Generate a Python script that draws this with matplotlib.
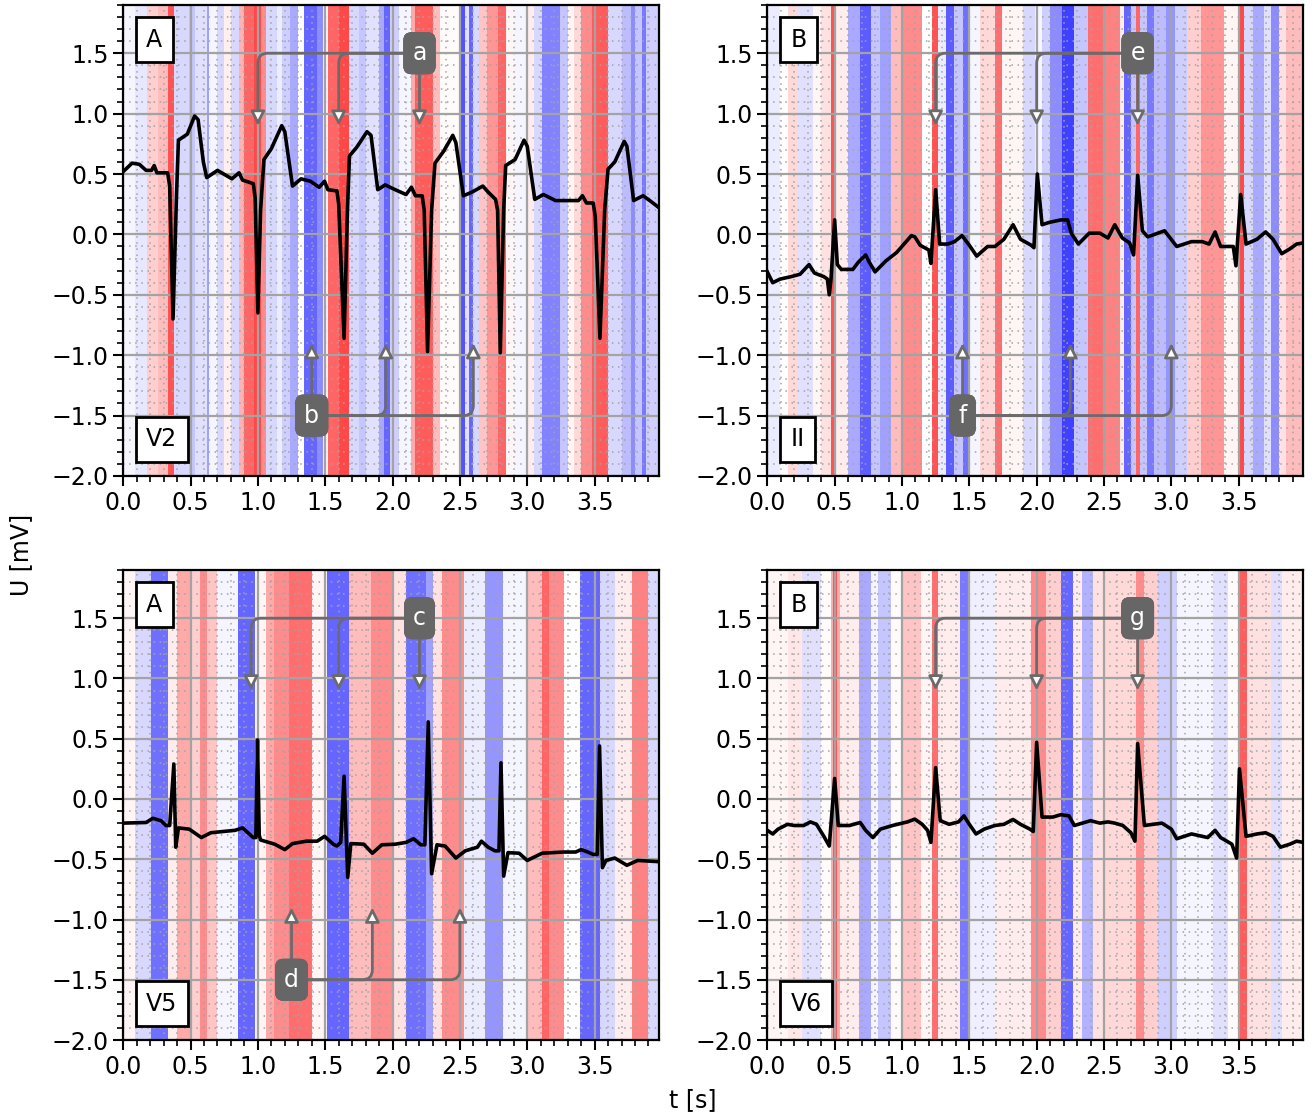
import numpy as np
import matplotlib
matplotlib.use("Agg")
import matplotlib.pyplot as plt
from matplotlib.ticker import MultipleLocator

# ---------------- data ----------------
T_END = 3.98

# ECG traces (time [s], voltage [mV])
v2_t = [0.00, 0.066, 0.12, 0.17, 0.21, 0.23, 0.25, 0.33, 0.345, 0.37, 0.395, 0.41, 0.476, 0.53, 0.556, 0.595, 0.62,
        0.70, 0.807, 0.86, 0.886, 0.966, 0.98, 1.0, 1.02, 1.045, 1.10, 1.177, 1.20, 1.257, 1.32, 1.39, 1.455, 1.495,
        1.52, 1.587, 1.60, 1.64, 1.665, 1.68, 1.733, 1.81, 1.84, 1.89, 1.945, 2.02, 2.10, 2.14, 2.17, 2.22, 2.235,
        2.26, 2.29, 2.315, 2.38, 2.447, 2.47, 2.526, 2.59, 2.67, 2.71, 2.765, 2.78, 2.80, 2.825, 2.84, 2.91, 2.976,
        3.00, 3.056, 3.12, 3.21, 3.38, 3.41, 3.44, 3.49, 3.505, 3.54, 3.575, 3.60, 3.65, 3.72, 3.74, 3.79, 3.86,
        3.91, 3.98]
v2_u = [0.52, 0.59, 0.58, 0.53, 0.53, 0.57, 0.51, 0.51, 0.40, -0.70, 0.30, 0.78, 0.83, 0.98, 0.95, 0.60, 0.47,
        0.53, 0.46, 0.51, 0.45, 0.42, 0.30, -0.65, 0.20, 0.62, 0.71, 0.90, 0.85, 0.40, 0.46, 0.44, 0.39, 0.44,
        0.37, 0.36, 0.25, -0.86, 0.20, 0.65, 0.72, 0.85, 0.82, 0.37, 0.41, 0.37, 0.33, 0.39, 0.32, 0.32, 0.20,
        -0.97, 0.20, 0.59, 0.69, 0.82, 0.76, 0.32, 0.35, 0.40, 0.35, 0.29, 0.20, -0.98, 0.20, 0.57, 0.62, 0.78,
        0.73, 0.29, 0.33, 0.28, 0.28, 0.32, 0.26, 0.26, 0.15, -0.86, 0.20, 0.54, 0.60, 0.77, 0.73, 0.28, 0.32,
        0.28, 0.22]

ii_t = [0.00, 0.04, 0.095, 0.176, 0.243, 0.31, 0.35, 0.42, 0.446, 0.46, 0.473, 0.50, 0.52, 0.55, 0.57, 0.635,
        0.676, 0.73, 0.757, 0.80, 0.88, 0.96, 1.07, 1.095, 1.135, 1.20, 1.215, 1.25, 1.28, 1.34, 1.39, 1.446,
        1.50, 1.555, 1.636, 1.69, 1.757, 1.825, 1.88, 1.96, 1.98, 2.005, 2.04, 2.095, 2.18, 2.23, 2.257, 2.31,
        2.39, 2.47, 2.53, 2.58, 2.636, 2.69, 2.72, 2.75, 2.785, 2.825, 2.95, 3.04, 3.15, 3.23, 3.28, 3.325,
        3.366, 3.46, 3.48, 3.515, 3.555, 3.636, 3.70, 3.755, 3.82, 3.88, 3.93, 3.98]
ii_u = [-0.31, -0.40, -0.37, -0.35, -0.33, -0.25, -0.32, -0.35, -0.37, -0.50, -0.37, 0.12, -0.25, -0.29, -0.29,
        -0.29, -0.23, -0.17, -0.23, -0.31, -0.22, -0.15, -0.01, -0.02, -0.09, -0.13, -0.24, 0.37, -0.08, -0.08,
        -0.06, -0.01, -0.09, -0.18, -0.10, -0.10, -0.04, 0.08, -0.04, -0.09, -0.11, 0.50, 0.08, 0.10, 0.12,
        0.12, 0.01, -0.08, 0.01, 0.01, -0.03, 0.08, -0.03, -0.07, -0.17, 0.49, 0.03, -0.02, 0.03, -0.10, -0.06,
        -0.06, -0.08, 0.02, -0.10, -0.10, -0.26, 0.33, -0.08, -0.04, 0.02, -0.04, -0.16, -0.12, -0.08, -0.07]

v5_t = [0.00, 0.17, 0.22, 0.28, 0.317, 0.345, 0.376, 0.39, 0.41, 0.49, 0.58, 0.65, 0.83, 0.886, 0.966, 0.985,
        0.997, 1.01, 1.02, 1.125, 1.20, 1.257, 1.36, 1.44, 1.495, 1.56, 1.587, 1.615, 1.64, 1.667, 1.69, 1.786,
        1.85, 1.92, 2.02, 2.10, 2.156, 2.21, 2.24, 2.265, 2.29, 2.33, 2.39, 2.47, 2.54, 2.63, 2.66, 2.71, 2.76,
        2.79, 2.805, 2.825, 2.857, 2.94, 3.00, 3.11, 3.27, 3.36, 3.40, 3.45, 3.49, 3.52, 3.537, 3.558, 3.585,
        3.65, 3.74, 3.82, 3.98]
v5_u = [-0.20, -0.195, -0.16, -0.18, -0.22, -0.22, 0.29, -0.40, -0.24, -0.25, -0.32, -0.28, -0.26, -0.24, -0.32,
        -0.32, 0.49, -0.30, -0.34, -0.375, -0.42, -0.37, -0.35, -0.35, -0.31, -0.375, -0.39, -0.36, 0.19, -0.65,
        -0.37, -0.375, -0.45, -0.38, -0.375, -0.36, -0.33, -0.38, -0.38, 0.64, -0.62, -0.38, -0.39, -0.49, -0.43,
        -0.40, -0.35, -0.40, -0.43, -0.43, 0.30, -0.64, -0.445, -0.45, -0.51, -0.45, -0.44, -0.44, -0.42, -0.44,
        -0.46, -0.46, 0.44, -0.57, -0.51, -0.49, -0.55, -0.51, -0.52]

v6_t = [0.00, 0.04, 0.08, 0.15, 0.20, 0.27, 0.32, 0.365, 0.42, 0.46, 0.50, 0.527, 0.61, 0.69, 0.73, 0.784, 0.84,
        0.93, 1.04, 1.095, 1.15, 1.19, 1.215, 1.25, 1.284, 1.35, 1.42, 1.46, 1.50, 1.55, 1.61, 1.69, 1.757,
        1.825, 1.88, 1.95, 1.975, 2.00, 2.04, 2.12, 2.18, 2.24, 2.28, 2.34, 2.40, 2.47, 2.53, 2.58, 2.64, 2.70,
        2.73, 2.75, 2.80, 2.93, 3.00, 3.04, 3.15, 3.27, 3.325, 3.366, 3.45, 3.485, 3.506, 3.555, 3.636, 3.70,
        3.755, 3.81, 3.88, 3.93, 3.98]
v6_u = [-0.26, -0.29, -0.25, -0.21, -0.22, -0.22, -0.19, -0.21, -0.31, -0.39, 0.17, -0.22, -0.22, -0.195, -0.26,
        -0.32, -0.25, -0.22, -0.19, -0.167, -0.21, -0.26, -0.36, 0.26, -0.18, -0.21, -0.19, -0.14, -0.21, -0.29,
        -0.25, -0.22, -0.21, -0.17, -0.21, -0.25, -0.27, 0.47, -0.15, -0.15, -0.13, -0.14, -0.22, -0.20, -0.18,
        -0.20, -0.19, -0.20, -0.22, -0.28, -0.35, 0.46, -0.22, -0.20, -0.25, -0.33, -0.29, -0.32, -0.26, -0.32,
        -0.375, -0.49, 0.25, -0.31, -0.29, -0.28, -0.31, -0.40, -0.375, -0.35, -0.36]

# relevance bands: start time of each band and its relevance (-1 .. 1)
v2_band_t = [0.00, 0.09, 0.18, 0.26, 0.33, 0.38, 0.49, 0.53, 0.62, 0.64, 0.70, 0.75, 0.80, 0.86, 0.90, 0.97, 1.02,
             1.06, 1.14, 1.18, 1.24, 1.30, 1.34, 1.44, 1.48, 1.52, 1.60, 1.68, 1.75, 1.80, 1.90, 1.94, 1.98, 2.05,
             2.14, 2.17, 2.30, 2.35, 2.51, 2.535, 2.57, 2.60, 2.64, 2.70, 2.78, 2.84, 2.90, 3.00, 3.05, 3.11, 3.24,
             3.30, 3.35, 3.40, 3.48, 3.60, 3.70, 3.77, 3.80, 3.85, 3.88]
v2_band_r = [-0.05, -0.12, 0.25, 0.35, 0.90, -0.20, -0.30, -0.15, -0.50, -0.05, -0.20, 0.08, -0.20, 0.40, 0.80,
             0.95, 0.60, -0.20, -0.10, -0.25, -0.45, 0.00, -0.80, -0.60, 0.05, 0.80, 0.95, -0.20, -0.30, -0.15,
             -0.45, -0.80, -0.25, -0.05, 0.45, 0.85, 0.35, 0.02, -0.90, -0.15, -0.80, -0.20, 0.30, 0.55, 0.80,
             0.05, -0.05, 0.10, -0.20, -0.65, -0.30, 0.05, 0.20, 0.60, 0.85, -0.20, -0.35, -0.60, -0.30, -0.70,
             -0.25]

ii_band_t = [0.00, 0.095, 0.15, 0.23, 0.34, 0.40, 0.47, 0.51, 0.60, 0.69, 0.77, 0.84, 0.92, 0.99, 1.15, 1.22,
             1.27, 1.33, 1.39, 1.45, 1.50, 1.58, 1.69, 1.74, 1.90, 1.99, 2.04, 2.10, 2.19, 2.28, 2.38, 2.50, 2.62,
             2.65, 2.70, 2.74, 2.77, 2.82, 2.87, 2.96, 3.03, 3.12, 3.22, 3.39, 3.50, 3.54, 3.61, 3.69, 3.74, 3.80,
             3.85]
ii_band_r = [-0.10, 0.00, 0.20, -0.15, 0.05, 0.15, 0.90, 0.10, -0.45, -0.85, -0.30, -0.50, 0.35, 0.60, 0.00,
             0.90, -0.10, -0.85, -0.30, -0.75, -0.05, 0.20, 0.75, 0.05, -0.20, -0.05, -0.25, -0.60, -1.00, -0.30,
             0.75, 0.65, 0.10, -0.80, -0.30, 0.80, -0.30, -0.70, -0.35, -0.55, -0.25, 0.25, 0.55, 0.05, 0.95,
             -0.20, -0.45, -0.15, -0.60, 0.15, 0.35]

v5_band_t = [0.00, 0.09, 0.21, 0.33, 0.40, 0.50, 0.57, 0.62, 0.70, 0.85, 0.98, 1.06, 1.12, 1.23, 1.40, 1.51,
             1.68, 1.84, 2.00, 2.10, 2.25, 2.30, 2.37, 2.53, 2.69, 2.82, 3.00, 3.11, 3.16, 3.27, 3.39, 3.54, 3.65,
             3.78, 3.90]
v5_band_r = [0.05, -0.20, -0.75, 0.10, 0.45, 0.25, 0.60, 0.30, -0.05, -0.80, 0.05, 0.45, 0.60, 0.75, 0.05,
             -0.80, 0.35, 0.60, 0.15, -0.75, -0.50, 0.15, 0.60, -0.10, -0.55, -0.05, 0.35, 0.80, 0.60, 0.00,
             -0.80, -0.20, 0.10, 0.65, -0.20]

v6_band_t = [0.00, 0.15, 0.26, 0.40, 0.47, 0.49, 0.52, 0.54, 0.68, 0.77, 0.82, 0.92, 1.00, 1.14, 1.22, 1.27,
             1.43, 1.50, 1.69, 1.96, 2.07, 2.18, 2.27, 2.34, 2.42, 2.50, 2.74, 2.80, 2.90, 3.04, 3.31, 3.42, 3.50,
             3.56, 3.74, 3.82]
v6_band_r = [0.05, 0.12, -0.15, 0.02, 0.45, 0.90, 0.45, 0.10, -0.45, -0.05, -0.30, 0.02, 0.30, 0.05, 0.75,
             0.10, -0.70, -0.08, 0.10, 0.60, 0.25, -0.80, 0.10, -0.40, 0.15, 0.20, 0.60, 0.25, -0.25, -0.05, -0.15,
             0.02, 0.85, 0.15, -0.15, 0.10]

panels = [
    dict(name="V2", group="A", t=v2_t, u=v2_u, bt=v2_band_t, br=v2_band_r,
         top=("a", 2.2, [1.0, 1.6, 2.2]), bottom=("b", 1.4, [1.4, 1.95, 2.6])),
    dict(name="II", group="B", t=ii_t, u=ii_u, bt=ii_band_t, br=ii_band_r,
         top=("e", 2.75, [1.25, 2.0, 2.75]), bottom=("f", 1.45, [1.45, 2.25, 3.0])),
    dict(name="V5", group="A", t=v5_t, u=v5_u, bt=v5_band_t, br=v5_band_r,
         top=("c", 2.2, [0.95, 1.6, 2.2]), bottom=("d", 1.25, [1.25, 1.85, 2.5])),
    dict(name="V6", group="B", t=v6_t, u=v6_u, bt=v6_band_t, br=v6_band_r,
         top=("g", 2.75, [1.25, 2.0, 2.75]), bottom=None),
]

# ---------------- style ----------------
FS = 17
YMIN, YMAX = -2.0, 1.9
BOX_Y_TOP, TIP_Y_TOP = 1.5, 0.9
BOX_Y_BOT, TIP_Y_BOT = -1.5, -0.9
GRAY = "#6b6b6b"

fig = plt.figure(figsize=(13.15, 11.17), dpi=100)
rects = [[0.0937, 0.5739, 0.4076, 0.4217], [0.5835, 0.5739, 0.4076, 0.4217],
         [0.0937, 0.0689, 0.4076, 0.4208], [0.5835, 0.0689, 0.4076, 0.4208]]


def annotate_group(ax, label, xbox, ybox, targets, ytip):
    for xt in targets:
        if abs(xt - xbox) < 1e-6:
            cs = "arc3"
        else:
            cs = "angle,angleA=0,angleB=90,rad=10"
        ax.annotate(label, xy=(xt, ytip), xytext=(xbox, ybox), fontsize=FS, color="white",
                    ha="center", va="center", zorder=6,
                    bbox=dict(boxstyle="round,pad=0.38,rounding_size=0.35", fc="#666666", ec="none"),
                    arrowprops=dict(arrowstyle="-|>,head_length=0.5,head_width=0.25",
                                    connectionstyle=cs, edgecolor=GRAY, facecolor="white",
                                    lw=2, shrinkA=0, shrinkB=0))


for rect, p in zip(rects, panels):
    ax = fig.add_axes(rect)
    edges = np.array(list(p["bt"]) + [T_END])
    vals = np.array(p["br"])[None, :]
    ax.pcolormesh(edges, [YMIN, YMAX], vals, cmap="bwr", vmin=-1, vmax=1, alpha=0.75,
                  shading="flat", zorder=0.2, edgecolors="none", antialiased=False)
    ax.plot(p["t"], p["u"], color="black", lw=2.6, zorder=3, solid_joinstyle="round")
    ax.set_xlim(0, T_END)
    ax.set_ylim(YMIN, YMAX)
    ax.xaxis.set_major_locator(MultipleLocator(0.5))
    ax.xaxis.set_minor_locator(MultipleLocator(0.1))
    ax.yaxis.set_major_locator(MultipleLocator(0.5))
    ax.yaxis.set_minor_locator(MultipleLocator(0.1))
    ax.set_axisbelow(True)
    ax.grid(True, which="major", color="#a3a3a3", lw=1.6, ls="-")
    ax.grid(True, which="minor", color="#a3a3a3", lw=1.1, ls=(0, (1, 3)))
    ax.tick_params(which="major", length=7, width=1.5, labelsize=FS)
    ax.tick_params(which="minor", length=4, width=1.2)
    for s in ax.spines.values():
        s.set_linewidth(1.6)
    ax.text(0.043, 0.952, p["group"], transform=ax.transAxes, fontsize=FS, ha="left", va="top",
            zorder=7, bbox=dict(boxstyle="square,pad=0.45", fc="white", ec="black", lw=2))
    ax.text(0.043, 0.052, p["name"], transform=ax.transAxes, fontsize=FS, ha="left", va="bottom",
            zorder=7, bbox=dict(boxstyle="square,pad=0.45", fc="white", ec="black", lw=2))
    lab, xb, tg = p["top"]
    annotate_group(ax, lab, xb, BOX_Y_TOP, tg, TIP_Y_TOP)
    if p["bottom"] is not None:
        lab, xb, tg = p["bottom"]
        annotate_group(ax, lab, xb, BOX_Y_BOT, tg, TIP_Y_BOT)

fig.text(0.016, 0.503, "U [mV]", rotation=90, ha="center", va="center", fontsize=FS)
fig.text(0.527, 0.015, "t [s]", ha="center", va="center", fontsize=FS)

fig.savefig("out.png", dpi=100)
